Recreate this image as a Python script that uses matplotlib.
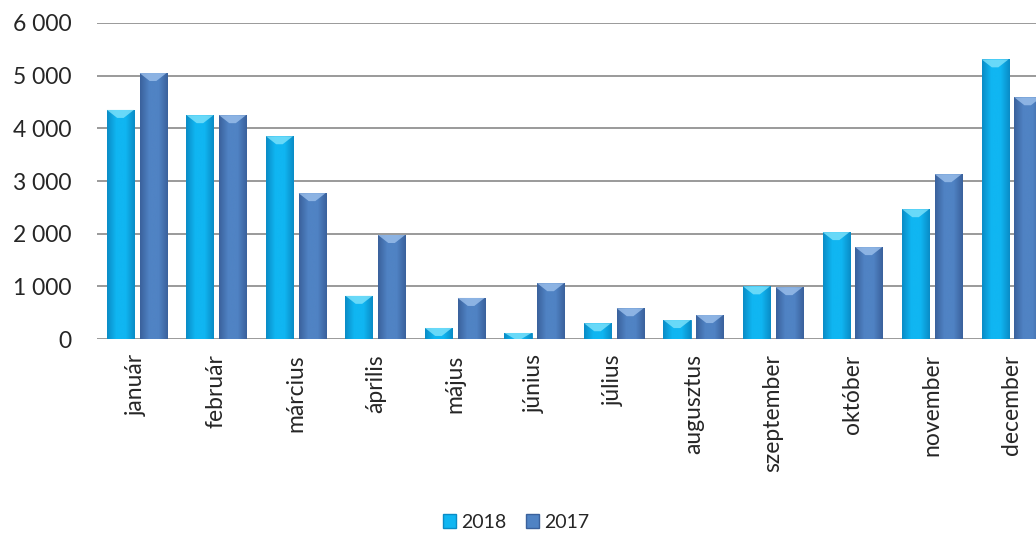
import numpy as np
import matplotlib; matplotlib.use('Agg')
import matplotlib.pyplot as plt
from matplotlib.patches import Polygon, Patch
from matplotlib.ticker import FuncFormatter

plt.rcParams['font.family'] = ['Lato', 'DejaVu Sans']

months = ['január', 'február', 'március', 'április', 'május', 'június',
          'július', 'augusztus', 'szeptember', 'október', 'november', 'december']
v2018 = [4350, 4250, 3850, 820, 210, 115, 300, 360, 1000, 2030, 2465, 5310]
v2017 = [5050, 4250, 2770, 1975, 780, 1060, 585, 455, 985, 1745, 3130, 4590]
years = ['2018', '2017']

# base colours: (edge, centre, bevel highlight)
styles = {
    '2018': ('#0a8cc6', '#10b6f2', '#7fe3fb'),
    '2017': ('#3a619c', '#5083c4', '#9cc0ec'),
}

fig = plt.figure(figsize=(10.36, 5.36), dpi=100)
ax = fig.add_axes([0.0936, 0.3675, 0.921, 0.5896])

x = np.arange(len(months))
w = 0.34
off = 0.205

ax.set_yticks(np.arange(0, 6001, 1000))
ax.yaxis.set_major_formatter(FuncFormatter(lambda v, p: f'{v:,.0f}'.replace(',', ' ')))
ax.grid(True, axis='y', color='#7f7f7f', lw=1.1)
ax.set_axisbelow(True)
for s in ax.spines.values():
    s.set_visible(False)
ax.tick_params(axis='both', length=0, colors='#262626')
ax.tick_params(axis='y', labelsize=16.5, pad=18)
ax.tick_params(axis='x', labelsize=16.5, pad=11)
ax.set_xticks(x)
ax.set_xticklabels(months, rotation=90)

# px -> data units for the bevel height
px_y = 6000 / (0.5896 * 536)

for yr, vals, sign in [('2018', v2018, -1), ('2017', v2017, 1)]:
    edge, mid, hi = styles[yr]
    bars = ax.bar(x + sign * off, vals, w, color=mid, edgecolor=edge, lw=0.6, zorder=2)
    cmap = matplotlib.colors.LinearSegmentedColormap.from_list(yr, [edge, mid, mid, edge])
    grad = np.linspace(0, 1, 64).reshape(1, -1)
    for b in bars:
        x0, bw, h = b.get_x(), b.get_width(), b.get_height()
        im = ax.imshow(grad, cmap=cmap, extent=(x0, x0 + bw, 0, h),
                       aspect='auto', zorder=2.5, interpolation='bicubic')
        im.set_clip_path(b)
        bev = min(8 * px_y, h)
        ax.add_patch(Polygon([(x0, h), (x0 + bw, h), (x0 + bw * 0.62, h - bev),
                              (x0 + bw * 0.38, h - bev)],
                             closed=True, color=hi, alpha=0.8, lw=0, zorder=3))

ax.set_xlim(-0.5, len(months) - 0.5)
ax.set_ylim(0, 6000)

handles = [Patch(facecolor=styles[y][1], edgecolor=styles[y][0]) for y in years]
fig.legend(handles, years, loc='center', bbox_to_anchor=(0.498, 0.026), ncol=2,
           frameon=False, fontsize=14, handlelength=0.7, handleheight=0.7,
           handletextpad=0.25, columnspacing=1.0, labelcolor='#262626')

fig.savefig('out.png', dpi=100, facecolor='white')
